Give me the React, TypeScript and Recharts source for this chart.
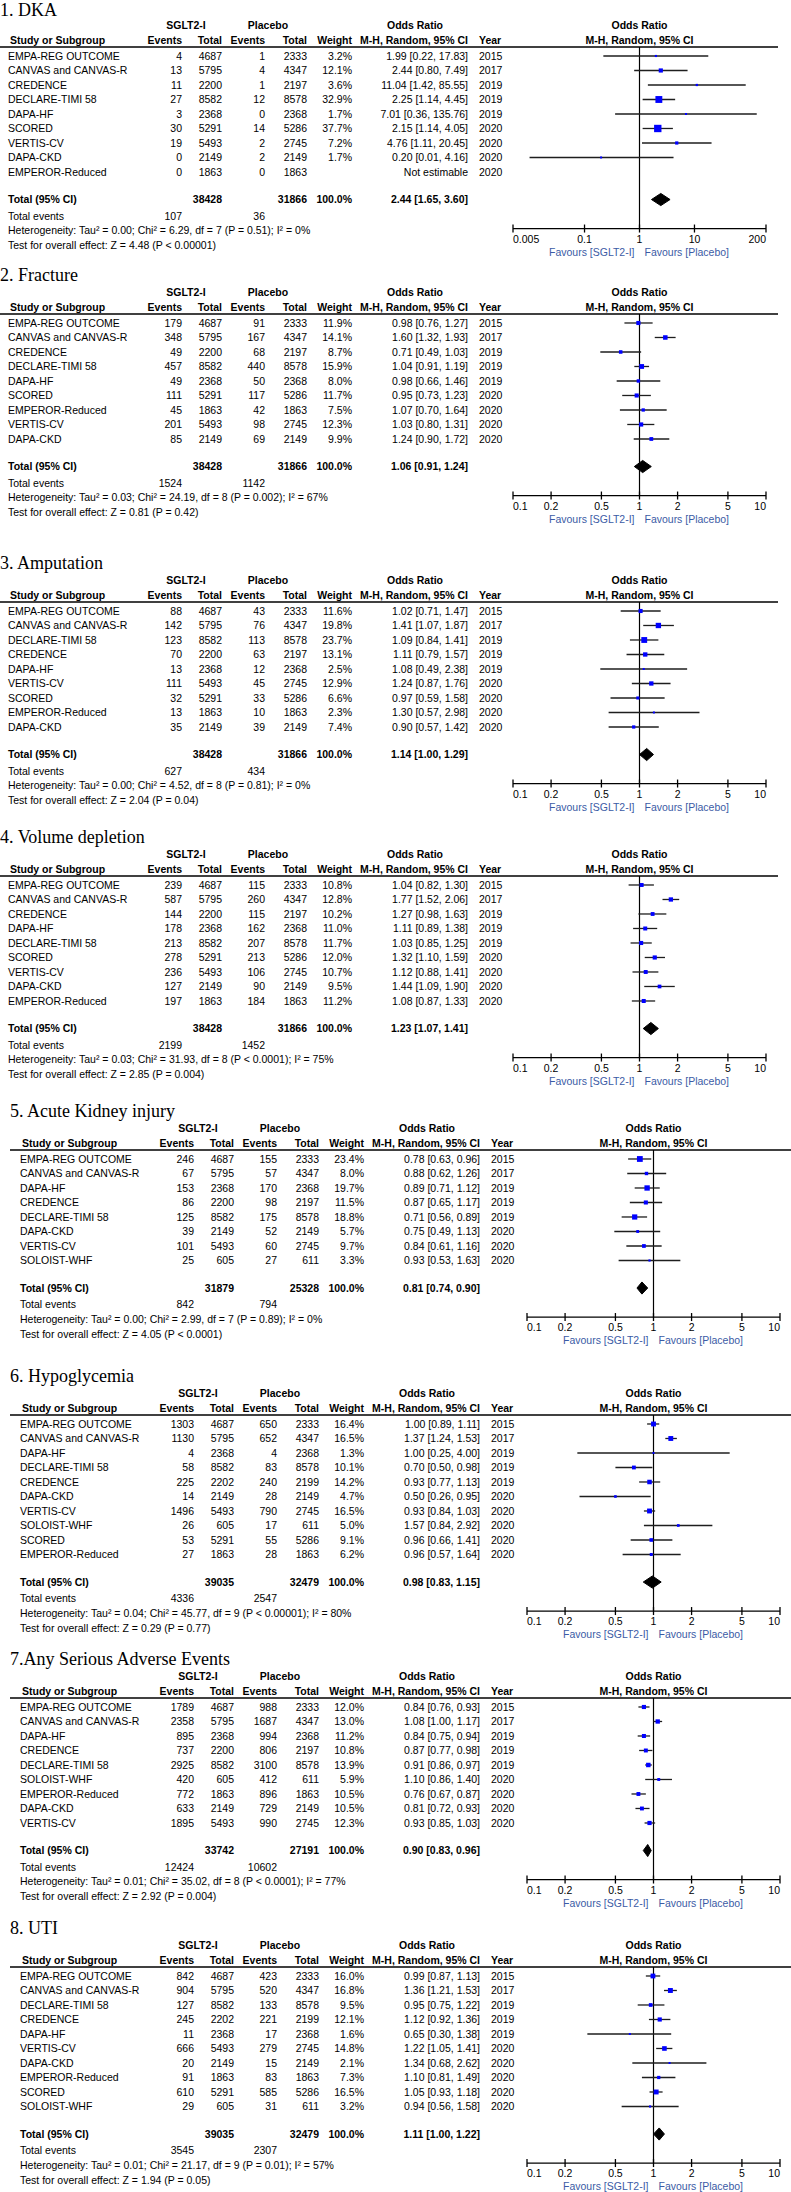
import React from 'react';
import { ScatterChart, Scatter, XAxis, YAxis, ReferenceLine } from 'recharts';

// Row: [study, sgltEvents, sgltTotal, placeboEvents, placeboTotal, weight%, OR, lower, upper, year]
type Row = [string, number, number, number, number, number | null, number | null, number | null, number | null, number];

const panelTitles = [
  '1. DKA',
  '2. Fracture',
  '3. Amputation',
  '4. Volume depletion',
  '5. Acute Kidney injury',
  '6. Hypoglycemia',
  '7.Any Serious Adverse Events',
  '8. UTI',
];

const stdTicks = [0.1, 0.2, 0.5, 1, 2, 5, 10];
const dkaTicks = [0.005, 0.1, 1, 10, 200];

// 1. DKA
const dkaRows: Row[] = [
  ['EMPA-REG OUTCOME', 4, 4687, 1, 2333, 3.2, 1.99, 0.22, 17.83, 2015],
  ['CANVAS and CANVAS-R', 13, 5795, 4, 4347, 12.1, 2.44, 0.8, 7.49, 2017],
  ['CREDENCE', 11, 2200, 1, 2197, 3.6, 11.04, 1.42, 85.55, 2019],
  ['DECLARE-TIMI 58', 27, 8582, 12, 8578, 32.9, 2.25, 1.14, 4.45, 2019],
  ['DAPA-HF', 3, 2368, 0, 2368, 1.7, 7.01, 0.36, 135.76, 2019],
  ['SCORED', 30, 5291, 14, 5286, 37.7, 2.15, 1.14, 4.05, 2020],
  ['VERTIS-CV', 19, 5493, 2, 2745, 7.2, 4.76, 1.11, 20.45, 2020],
  ['DAPA-CKD', 0, 2149, 2, 2149, 1.7, 0.2, 0.01, 4.16, 2020],
  ['EMPEROR-Reduced', 0, 1863, 0, 1863, null, null, null, null, 2020],
];
const dkaTotals = [38428, 31866, 2.44, 1.65, 3.6];
const dkaEvents = [107, 36];
const dkaNotes = [
  'Heterogeneity: Tau² = 0.00; Chi² = 6.29, df = 7 (P = 0.51); I² = 0%',
  'Test for overall effect: Z = 4.48 (P < 0.00001)',
];

// 2. Fracture
const fractureRows: Row[] = [
  ['EMPA-REG OUTCOME', 179, 4687, 91, 2333, 11.9, 0.98, 0.76, 1.27, 2015],
  ['CANVAS and CANVAS-R', 348, 5795, 167, 4347, 14.1, 1.6, 1.32, 1.93, 2017],
  ['CREDENCE', 49, 2200, 68, 2197, 8.7, 0.71, 0.49, 1.03, 2019],
  ['DECLARE-TIMI 58', 457, 8582, 440, 8578, 15.9, 1.04, 0.91, 1.19, 2019],
  ['DAPA-HF', 49, 2368, 50, 2368, 8.0, 0.98, 0.66, 1.46, 2019],
  ['SCORED', 111, 5291, 117, 5286, 11.7, 0.95, 0.73, 1.23, 2020],
  ['EMPEROR-Reduced', 45, 1863, 42, 1863, 7.5, 1.07, 0.7, 1.64, 2020],
  ['VERTIS-CV', 201, 5493, 98, 2745, 12.3, 1.03, 0.8, 1.31, 2020],
  ['DAPA-CKD', 85, 2149, 69, 2149, 9.9, 1.24, 0.9, 1.72, 2020],
];
const fractureTotals = [38428, 31866, 1.06, 0.91, 1.24];
const fractureEvents = [1524, 1142];
const fractureNotes = [
  'Heterogeneity: Tau² = 0.03; Chi² = 24.19, df = 8 (P = 0.002); I² = 67%',
  'Test for overall effect: Z = 0.81 (P = 0.42)',
];

// 3. Amputation
const amputationRows: Row[] = [
  ['EMPA-REG OUTCOME', 88, 4687, 43, 2333, 11.6, 1.02, 0.71, 1.47, 2015],
  ['CANVAS and CANVAS-R', 142, 5795, 76, 4347, 19.8, 1.41, 1.07, 1.87, 2017],
  ['DECLARE-TIMI 58', 123, 8582, 113, 8578, 23.7, 1.09, 0.84, 1.41, 2019],
  ['CREDENCE', 70, 2200, 63, 2197, 13.1, 1.11, 0.79, 1.57, 2019],
  ['DAPA-HF', 13, 2368, 12, 2368, 2.5, 1.08, 0.49, 2.38, 2019],
  ['VERTIS-CV', 111, 5493, 45, 2745, 12.9, 1.24, 0.87, 1.76, 2020],
  ['SCORED', 32, 5291, 33, 5286, 6.6, 0.97, 0.59, 1.58, 2020],
  ['EMPEROR-Reduced', 13, 1863, 10, 1863, 2.3, 1.3, 0.57, 2.98, 2020],
  ['DAPA-CKD', 35, 2149, 39, 2149, 7.4, 0.9, 0.57, 1.42, 2020],
];
const amputationTotals = [38428, 31866, 1.14, 1.0, 1.29];
const amputationEvents = [627, 434];
const amputationNotes = [
  'Heterogeneity: Tau² = 0.00; Chi² = 4.52, df = 8 (P = 0.81); I² = 0%',
  'Test for overall effect: Z = 2.04 (P = 0.04)',
];

// 4. Volume depletion
const volumeRows: Row[] = [
  ['EMPA-REG OUTCOME', 239, 4687, 115, 2333, 10.8, 1.04, 0.82, 1.3, 2015],
  ['CANVAS and CANVAS-R', 587, 5795, 260, 4347, 12.8, 1.77, 1.52, 2.06, 2017],
  ['CREDENCE', 144, 2200, 115, 2197, 10.2, 1.27, 0.98, 1.63, 2019],
  ['DAPA-HF', 178, 2368, 162, 2368, 11.0, 1.11, 0.89, 1.38, 2019],
  ['DECLARE-TIMI 58', 213, 8582, 207, 8578, 11.7, 1.03, 0.85, 1.25, 2019],
  ['SCORED', 278, 5291, 213, 5286, 12.0, 1.32, 1.1, 1.59, 2020],
  ['VERTIS-CV', 236, 5493, 106, 2745, 10.7, 1.12, 0.88, 1.41, 2020],
  ['DAPA-CKD', 127, 2149, 90, 2149, 9.5, 1.44, 1.09, 1.9, 2020],
  ['EMPEROR-Reduced', 197, 1863, 184, 1863, 11.2, 1.08, 0.87, 1.33, 2020],
];
const volumeTotals = [38428, 31866, 1.23, 1.07, 1.41];
const volumeEvents = [2199, 1452];
const volumeNotes = [
  'Heterogeneity: Tau² = 0.03; Chi² = 31.93, df = 8 (P < 0.0001); I² = 75%',
  'Test for overall effect: Z = 2.85 (P = 0.004)',
];

// 5. Acute kidney injury
const akiRows: Row[] = [
  ['EMPA-REG OUTCOME', 246, 4687, 155, 2333, 23.4, 0.78, 0.63, 0.96, 2015],
  ['CANVAS and CANVAS-R', 67, 5795, 57, 4347, 8.0, 0.88, 0.62, 1.26, 2017],
  ['DAPA-HF', 153, 2368, 170, 2368, 19.7, 0.89, 0.71, 1.12, 2019],
  ['CREDENCE', 86, 2200, 98, 2197, 11.5, 0.87, 0.65, 1.17, 2019],
  ['DECLARE-TIMI 58', 125, 8582, 175, 8578, 18.8, 0.71, 0.56, 0.89, 2019],
  ['DAPA-CKD', 39, 2149, 52, 2149, 5.7, 0.75, 0.49, 1.13, 2020],
  ['VERTIS-CV', 101, 5493, 60, 2745, 9.7, 0.84, 0.61, 1.16, 2020],
  ['SOLOIST-WHF', 25, 605, 27, 611, 3.3, 0.93, 0.53, 1.63, 2020],
];
const akiTotals = [31879, 25328, 0.81, 0.74, 0.9];
const akiEvents = [842, 794];
const akiNotes = [
  'Heterogeneity: Tau² = 0.00; Chi² = 2.99, df = 7 (P = 0.89); I² = 0%',
  'Test for overall effect: Z = 4.05 (P < 0.0001)',
];

// 6. Hypoglycemia
const hypoRows: Row[] = [
  ['EMPA-REG OUTCOME', 1303, 4687, 650, 2333, 16.4, 1.0, 0.89, 1.11, 2015],
  ['CANVAS and CANVAS-R', 1130, 5795, 652, 4347, 16.5, 1.37, 1.24, 1.53, 2017],
  ['DAPA-HF', 4, 2368, 4, 2368, 1.3, 1.0, 0.25, 4.0, 2019],
  ['DECLARE-TIMI 58', 58, 8582, 83, 8578, 10.1, 0.7, 0.5, 0.98, 2019],
  ['CREDENCE', 225, 2202, 240, 2199, 14.2, 0.93, 0.77, 1.13, 2019],
  ['DAPA-CKD', 14, 2149, 28, 2149, 4.7, 0.5, 0.26, 0.95, 2020],
  ['VERTIS-CV', 1496, 5493, 790, 2745, 16.5, 0.93, 0.84, 1.03, 2020],
  ['SOLOIST-WHF', 26, 605, 17, 611, 5.0, 1.57, 0.84, 2.92, 2020],
  ['SCORED', 53, 5291, 55, 5286, 9.1, 0.96, 0.66, 1.41, 2020],
  ['EMPEROR-Reduced', 27, 1863, 28, 1863, 6.2, 0.96, 0.57, 1.64, 2020],
];
const hypoTotals = [39035, 32479, 0.98, 0.83, 1.15];
const hypoEvents = [4336, 2547];
const hypoNotes = [
  'Heterogeneity: Tau² = 0.04; Chi² = 45.77, df = 9 (P < 0.00001); I² = 80%',
  'Test for overall effect: Z = 0.29 (P = 0.77)',
];

// 7. Any serious adverse events
const saeRows: Row[] = [
  ['EMPA-REG OUTCOME', 1789, 4687, 988, 2333, 12.0, 0.84, 0.76, 0.93, 2015],
  ['CANVAS and CANVAS-R', 2358, 5795, 1687, 4347, 13.0, 1.08, 1.0, 1.17, 2017],
  ['DAPA-HF', 895, 2368, 994, 2368, 11.2, 0.84, 0.75, 0.94, 2019],
  ['CREDENCE', 737, 2200, 806, 2197, 10.8, 0.87, 0.77, 0.98, 2019],
  ['DECLARE-TIMI 58', 2925, 8582, 3100, 8578, 13.9, 0.91, 0.86, 0.97, 2019],
  ['SOLOIST-WHF', 420, 605, 412, 611, 5.9, 1.1, 0.86, 1.4, 2020],
  ['EMPEROR-Reduced', 772, 1863, 896, 1863, 10.5, 0.76, 0.67, 0.87, 2020],
  ['DAPA-CKD', 633, 2149, 729, 2149, 10.5, 0.81, 0.72, 0.93, 2020],
  ['VERTIS-CV', 1895, 5493, 990, 2745, 12.3, 0.93, 0.85, 1.03, 2020],
];
const saeTotals = [33742, 27191, 0.9, 0.83, 0.96];
const saeEvents = [12424, 10602];
const saeNotes = [
  'Heterogeneity: Tau² = 0.01; Chi² = 35.02, df = 8 (P < 0.0001); I² = 77%',
  'Test for overall effect: Z = 2.92 (P = 0.004)',
];

// 8. UTI
const utiRows: Row[] = [
  ['EMPA-REG OUTCOME', 842, 4687, 423, 2333, 16.0, 0.99, 0.87, 1.13, 2015],
  ['CANVAS and CANVAS-R', 904, 5795, 520, 4347, 16.8, 1.36, 1.21, 1.53, 2017],
  ['DECLARE-TIMI 58', 127, 8582, 133, 8578, 9.5, 0.95, 0.75, 1.22, 2019],
  ['CREDENCE', 245, 2202, 221, 2199, 12.1, 1.12, 0.92, 1.36, 2019],
  ['DAPA-HF', 11, 2368, 17, 2368, 1.6, 0.65, 0.3, 1.38, 2019],
  ['VERTIS-CV', 666, 5493, 279, 2745, 14.8, 1.22, 1.05, 1.41, 2020],
  ['DAPA-CKD', 20, 2149, 15, 2149, 2.1, 1.34, 0.68, 2.62, 2020],
  ['EMPEROR-Reduced', 91, 1863, 83, 1863, 7.3, 1.1, 0.81, 1.49, 2020],
  ['SCORED', 610, 5291, 585, 5286, 16.5, 1.05, 0.93, 1.18, 2020],
  ['SOLOIST-WHF', 29, 605, 31, 611, 3.2, 0.94, 0.56, 1.58, 2020],
];
const utiTotals = [39035, 32479, 1.11, 1.0, 1.22];
const utiEvents = [3545, 2307];
const utiNotes = [
  'Heterogeneity: Tau² = 0.01; Chi² = 21.17, df = 9 (P = 0.01); I² = 57%',
  'Test for overall effect: Z = 1.94 (P = 0.05)',
];

type Panel = { rows: Row[]; totals: number[]; events: number[]; notes: string[]; ticks: number[] };

const panels: Panel[] = [
  { rows: dkaRows, totals: dkaTotals, events: dkaEvents, notes: dkaNotes, ticks: dkaTicks },
  { rows: fractureRows, totals: fractureTotals, events: fractureEvents, notes: fractureNotes, ticks: stdTicks },
  { rows: amputationRows, totals: amputationTotals, events: amputationEvents, notes: amputationNotes, ticks: stdTicks },
  { rows: volumeRows, totals: volumeTotals, events: volumeEvents, notes: volumeNotes, ticks: stdTicks },
  { rows: akiRows, totals: akiTotals, events: akiEvents, notes: akiNotes, ticks: stdTicks },
  { rows: hypoRows, totals: hypoTotals, events: hypoEvents, notes: hypoNotes, ticks: stdTicks },
  { rows: saeRows, totals: saeTotals, events: saeEvents, notes: saeNotes, ticks: stdTicks },
  { rows: utiRows, totals: utiTotals, events: utiEvents, notes: utiNotes, ticks: stdTicks },
];

// ---------- layout (positions / styles) ----------
const PAGE_W = 791;
const PAGE_H = 2192;
const ROW_H = 14.5;
const panelLineY = [47, 314, 602, 876, 1150, 1415, 1698, 1967];
const panelShift = [0, 0, 0, 0, 12, 12, 12, 12];
const plotLeft = [513, 513, 513, 513, 527, 527, 527, 527];
const PLOT_W = 253;
const FONT = "'Liberation Sans', Arial, sans-serif";
const SERIF = "'Liberation Serif', 'Times New Roman', serif";
const FS = 10.5;
const FAV = '#3b5ba5';
const SQUARE = '#0000ff';

const COL = { name: 8, head: 10, ev1: 182, tot1: 222, ev2: 265, tot2: 307, wt: 352, or: 468, year: 479 };

const fmt2 = (v: number) => v.toFixed(2);
const orText = (or: number | null, lo: number | null, hi: number | null) =>
  or == null || lo == null || hi == null ? 'Not estimable' : `${fmt2(or)} [${fmt2(lo)}, ${fmt2(hi)}]`;

function Txt(props: { x: number; y: number; a?: 'start' | 'middle' | 'end'; b?: boolean; children: React.ReactNode }) {
  return (
    <text
      x={props.x}
      y={props.y + 3.8}
      textAnchor={props.a || 'start'}
      fontWeight={props.b ? 'bold' : 'normal'}
      fontFamily={FONT}
      fontSize={FS}
      fill="#000"
    >
      {props.children}
    </text>
  );
}

function PanelText({ p, idx }: { p: Panel; idx: number }) {
  const lineY = panelLineY[idx];
  const dx = panelShift[idx];
  const n = p.rows.length;
  const row0 = lineY + 9;
  const totalY = row0 + (n + 0.9) * ROW_H;
  const h1 = lineY - 22;
  const h2 = lineY - 7;
  const plotCenter = plotLeft[idx] + PLOT_W / 2;
  const c = (k: keyof typeof COL) => COL[k] + dx;
  return (
    <g>
      <text x={dx === 0 ? 0 : 10} y={Math.max(16, lineY - 33)} fontFamily={SERIF} fontSize={18} fill="#000">
        {panelTitles[idx]}
      </text>
      <Txt x={c('ev1') + 4} y={h1} a="middle" b>SGLT2-I</Txt>
      <Txt x={c('ev2') + 3} y={h1} a="middle" b>Placebo</Txt>
      <Txt x={c('or') - 53} y={h1} a="middle" b>Odds Ratio</Txt>
      <Txt x={plotCenter} y={h1} a="middle" b>Odds Ratio</Txt>
      <Txt x={c('head')} y={h2} b>Study or Subgroup</Txt>
      <Txt x={c('ev1')} y={h2} a="end" b>Events</Txt>
      <Txt x={c('tot1')} y={h2} a="end" b>Total</Txt>
      <Txt x={c('ev2')} y={h2} a="end" b>Events</Txt>
      <Txt x={c('tot2')} y={h2} a="end" b>Total</Txt>
      <Txt x={c('wt')} y={h2} a="end" b>Weight</Txt>
      <Txt x={c('or')} y={h2} a="end" b>M-H, Random, 95% CI</Txt>
      <Txt x={c('year')} y={h2} b>Year</Txt>
      <Txt x={plotCenter} y={h2} a="middle" b>M-H, Random, 95% CI</Txt>
      <line x1={dx === 0 ? 0 : 10} x2={dx === 0 ? 778 : PAGE_W} y1={lineY} y2={lineY} stroke="#000" strokeWidth={1.4} />
      {p.rows.map((r, i) => {
        const y = row0 + i * ROW_H;
        return (
          <g key={i}>
            <Txt x={c('name')} y={y}>{r[0]}</Txt>
            <Txt x={c('ev1')} y={y} a="end">{r[1]}</Txt>
            <Txt x={c('tot1')} y={y} a="end">{r[2]}</Txt>
            <Txt x={c('ev2')} y={y} a="end">{r[3]}</Txt>
            <Txt x={c('tot2')} y={y} a="end">{r[4]}</Txt>
            <Txt x={c('wt')} y={y} a="end">{r[5] == null ? '' : `${r[5].toFixed(1)}%`}</Txt>
            <Txt x={c('or')} y={y} a="end">{orText(r[6], r[7], r[8])}</Txt>
            <Txt x={c('year')} y={y}>{r[9]}</Txt>
          </g>
        );
      })}
      <Txt x={c('name')} y={totalY} b>Total (95% CI)</Txt>
      <Txt x={c('tot1')} y={totalY} a="end" b>{p.totals[0]}</Txt>
      <Txt x={c('tot2')} y={totalY} a="end" b>{p.totals[1]}</Txt>
      <Txt x={c('wt')} y={totalY} a="end" b>100.0%</Txt>
      <Txt x={c('or')} y={totalY} a="end" b>{orText(p.totals[2], p.totals[3], p.totals[4])}</Txt>
      <Txt x={c('name')} y={totalY + 16.5}>Total events</Txt>
      <Txt x={c('ev1')} y={totalY + 16.5} a="end">{p.events[0]}</Txt>
      <Txt x={c('ev2')} y={totalY + 16.5} a="end">{p.events[1]}</Txt>
      <Txt x={c('name')} y={totalY + 31}>{p.notes[0]}</Txt>
      <Txt x={c('name')} y={totalY + 46}>{p.notes[1]}</Txt>
    </g>
  );
}

const makeTick = (ticks: number[]) => (props: any) => {
  const { x, y, payload } = props;
  const v = payload.value;
  const anchor = v === ticks[0] ? 'start' : v === ticks[ticks.length - 1] ? 'end' : 'middle';
  return (
    <g>
      <line x1={x} x2={x} y1={y - 4} y2={y + 4} stroke="#000" strokeWidth={1.3} />
      <text x={x} y={y + 14} textAnchor={anchor} fontFamily={FONT} fontSize={FS} fill="#000">
        {String(v)}
      </text>
      {v === 1 && (
        <g>
          <text x={x - 5} y={y + 27} textAnchor="end" fontFamily={FONT} fontSize={FS} fill={FAV}>
            Favours [SGLT2-I]
          </text>
          <text x={x + 5} y={y + 27} textAnchor="start" fontFamily={FONT} fontSize={FS} fill={FAV}>
            Favours [Placebo]
          </text>
        </g>
      )}
    </g>
  );
};

const squareShape = (props: any) => {
  const { cx, cy, payload } = props;
  if (cx == null || cy == null) return <g />;
  const s = Math.max(2, 1.2 * Math.sqrt(payload.w));
  return <rect x={cx - s / 2} y={cy - s / 2} width={s} height={s} fill={SQUARE} />;
};

const emptyShape = () => <g />;

function ForestPlot({ p, idx }: { p: Panel; idx: number }) {
  const n = p.rows.length;
  const lineY = panelLineY[idx];
  const M = 40;
  const axisH = 40;
  const plotH = (n + 3.52) * ROW_H;
  const width = PLOT_W + 2 * M;
  const height = plotH + axisH;
  const pts = p.rows
    .map((r, i) => ({ x: r[6], y: i, w: r[5], lo: r[7], hi: r[8] }))
    .filter((d) => d.x != null);
  const t = n + 0.9;
  const tor = p.totals[2];
  const tlo = p.totals[3];
  const thi = p.totals[4];
  const dh = 0.42;
  const diamond = [
    { x: tlo, y: t },
    { x: tor, y: t - dh },
    { x: thi, y: t },
    { x: tor, y: t + dh },
    { x: tlo, y: t },
  ];
  const tk = p.ticks;
  return (
    <div style={{ position: 'absolute', left: plotLeft[idx] - M, top: lineY, width, height }}>
      <ScatterChart width={width} height={height} margin={{ top: 0, right: M, bottom: 0, left: M }}>
        <XAxis
          type="number"
          dataKey="x"
          scale="log"
          domain={[tk[0], tk[tk.length - 1]]}
          allowDataOverflow
          ticks={tk}
          interval={0}
          tickLine={false}
          tickSize={0}
          tickMargin={0}
          height={axisH}
          axisLine={{ stroke: '#000', strokeWidth: 1.3 }}
          tick={makeTick(tk)}
        />
        <YAxis type="number" dataKey="y" domain={[-0.62, n + 2.9]} reversed hide allowDataOverflow />
        <ReferenceLine x={1} stroke="#000" strokeWidth={1.2} />
        {pts.map((d, i) => (
          <ReferenceLine
            key={i}
            segment={[
              { x: d.lo as number, y: d.y },
              { x: d.hi as number, y: d.y },
            ]}
            stroke="#1e1e1e"
            strokeWidth={1.3}
          />
        ))}
        <Scatter data={pts} shape={squareShape} isAnimationActive={false} />
        <Scatter
          data={diamond}
          line={{ stroke: '#000', fill: '#000', strokeWidth: 1 }}
          lineType="joint"
          shape={emptyShape}
          isAnimationActive={false}
        />
      </ScatterChart>
    </div>
  );
}

export default function App() {
  return (
    <div style={{ position: 'relative', width: PAGE_W, height: PAGE_H, background: '#fff', overflow: 'hidden' }}>
      <style>{'body{margin:0;background:#fff;}'}</style>
      <svg width={PAGE_W} height={PAGE_H} style={{ position: 'absolute', left: 0, top: 0 }}>
        {panels.map((p, i) => (
          <PanelText key={i} p={p} idx={i} />
        ))}
      </svg>
      {panels.map((p, i) => (
        <ForestPlot key={i} p={p} idx={i} />
      ))}
    </div>
  );
}
